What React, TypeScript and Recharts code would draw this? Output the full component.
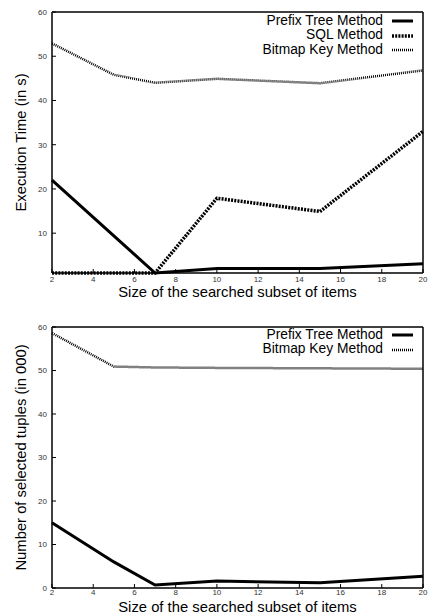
import React from "react";
import { LineChart, Line, XAxis, YAxis, Legend } from "recharts";

// subset sizes on the x axis
const sizes = [2, 5, 7, 10, 15, 20];
const xTicks = [2, 4, 6, 8, 10, 12, 14, 16, 18, 20];

// execution time (s)
const timePrefix = [22, 9.4, 1, 2, 2, 3.1];
const timeSql = [1, 1, 1, 17.9, 14.9, 33];
const timeBitmap = [52.9, 45.8, 44, 44.9, 43.9, 46.8];
const timeTicks = [10, 20, 30, 40, 50, 60];

// selected tuples (in 000)
const tuplePrefix = [15, 6, 0.7, 1.6, 1.2, 2.7];
const tupleBitmap = [58.6, 50.9, 50.7, 50.6, 50.5, 50.4];
const tupleTicks = [0, 10, 20, 30, 40, 50, 60];

const legendOrder = ["prefix", "sql", "bitmap"];

const timeData = sizes.map((s, i) => ({
  size: s,
  prefix: timePrefix[i],
  sql: timeSql[i],
  bitmap: timeBitmap[i],
}));
const tupleData = sizes.map((s, i) => ({
  size: s,
  prefix: tuplePrefix[i],
  bitmap: tupleBitmap[i],
}));

const FONT = "'Liberation Sans', Arial, Helvetica, sans-serif";

const lineStyles: Record<string, { width: number; dash?: string }> = {
  prefix: { width: 3 },
  sql: { width: 3.5, dash: "2 1.2" },
  bitmap: { width: 2.5, dash: "1 1" },
};

const tickStyle = { fontSize: 8, fill: "#333", fontFamily: FONT };

// legend in the top right corner, text right aligned, sample on the right
const renderLegend = (props: any) => {
  const items = [...(props.payload || [])].sort(
    (a: any, b: any) => legendOrder.indexOf(a.dataKey) - legendOrder.indexOf(b.dataKey)
  );
  return (
    <div style={{ fontFamily: FONT, fontSize: 13.8, color: "#000" }}>
      {items.map((entry: any) => {
        const st = lineStyles[entry.dataKey];
        return (
          <div
            key={entry.dataKey}
            style={{ display: "flex", justifyContent: "flex-end", alignItems: "center", height: 14.5, lineHeight: "14.5px" }}
          >
            <span>{entry.value}</span>
            <svg width={21} height={6} style={{ marginLeft: 9 }}>
              <line x1={0} y1={3} x2={21} y2={3} stroke="#000" strokeWidth={st.width} strokeDasharray={st.dash} />
            </svg>
          </div>
        );
      })}
    </div>
  );
};

const MirrorAxes = (domain: number[], yTicks: number[]) => [
  <XAxis
    key="xt"
    xAxisId="top"
    orientation="top"
    dataKey="size"
    type="number"
    domain={[2, 20]}
    ticks={xTicks}
    tick={false}
    tickSize={-4}
    height={1}
    axisLine={{ stroke: "#000", strokeWidth: 1.5 }}
    tickLine={{ stroke: "#000" }}
  />,
  <YAxis
    key="yr"
    yAxisId="right"
    orientation="right"
    type="number"
    domain={domain}
    ticks={yTicks}
    tick={false}
    tickSize={-4}
    width={1}
    axisLine={{ stroke: "#000", strokeWidth: 1.5 }}
    tickLine={{ stroke: "#000" }}
  />,
];

const xTitle = "Size of the searched subset of items";
const titleStyle = { fontSize: 14.8, fill: "#000", fontFamily: FONT };

export default function App() {
  return (
    <div style={{ position: "absolute", left: 0, top: 0, width: 432, height: 616, background: "#fff" }}>
      <LineChart width={432} height={310} data={timeData} margin={{ top: 11, right: 8, left: 0, bottom: 0 }}>
        <XAxis
          dataKey="size"
          type="number"
          domain={[2, 20]}
          ticks={xTicks}
          height={37}
          tickSize={-4}
          tickMargin={7}
          tick={tickStyle}
          axisLine={{ stroke: "#000", strokeWidth: 1.5 }}
          tickLine={{ stroke: "#000" }}
          label={{ value: xTitle, position: "insideBottom", offset: 13, style: titleStyle }}
        />
        <YAxis
          type="number"
          domain={[1, 60]}
          ticks={timeTicks}
          width={52}
          tickSize={-4}
          tickMargin={9}
          tick={tickStyle}
          axisLine={{ stroke: "#000", strokeWidth: 1.5 }}
          tickLine={{ stroke: "#000" }}
          label={{ value: "Execution Time (in s)", angle: -90, position: "center", dx: -5, style: { ...titleStyle, textAnchor: "middle" } }}
        />
        {MirrorAxes([1, 60], timeTicks)}
        <Legend layout="horizontal" verticalAlign="middle" align="center" content={renderLegend}
          wrapperStyle={{ top: 13.75, right: 19, left: "auto", width: "auto" }} />
        <Line dataKey="prefix" name="Prefix Tree Method" type="linear" stroke="#000" strokeWidth={3} dot={false} isAnimationActive={false} />
        <Line dataKey="sql" name="SQL Method" type="linear" stroke="#000" strokeWidth={3.5} strokeDasharray="2 1.2" dot={false} isAnimationActive={false} />
        <Line dataKey="bitmap" name="Bitmap Key Method" type="linear" stroke="#000" strokeWidth={2.5} strokeDasharray="1 1" dot={false} isAnimationActive={false} />
      </LineChart>
      <LineChart width={432} height={306} data={tupleData} margin={{ top: 16, right: 8, left: 0, bottom: 0 }}>
        <XAxis
          dataKey="size"
          type="number"
          domain={[2, 20]}
          ticks={xTicks}
          height={28}
          tickSize={-4}
          tickMargin={5}
          tick={tickStyle}
          axisLine={{ stroke: "#000", strokeWidth: 1.5 }}
          tickLine={{ stroke: "#000" }}
          label={{ value: xTitle, position: "insideBottom", offset: 4, style: titleStyle }}
        />
        <YAxis
          type="number"
          domain={[0, 60]}
          ticks={tupleTicks}
          width={52}
          tickSize={-4}
          tickMargin={9}
          tick={tickStyle}
          axisLine={{ stroke: "#000", strokeWidth: 1.5 }}
          tickLine={{ stroke: "#000" }}
          label={{ value: "Number of selected tuples (in 000)", angle: -90, position: "center", dx: -5, style: { ...titleStyle, textAnchor: "middle" } }}
        />
        {MirrorAxes([0, 60], tupleTicks)}
        <Legend layout="horizontal" verticalAlign="middle" align="center" content={renderLegend}
          wrapperStyle={{ top: 17.75, right: 19, left: "auto", width: "auto" }} />
        <Line dataKey="prefix" name="Prefix Tree Method" type="linear" stroke="#000" strokeWidth={3} dot={false} isAnimationActive={false} />
        <Line dataKey="bitmap" name="Bitmap Key Method" type="linear" stroke="#000" strokeWidth={2.5} strokeDasharray="1 1" dot={false} isAnimationActive={false} />
      </LineChart>
    </div>
  );
}
